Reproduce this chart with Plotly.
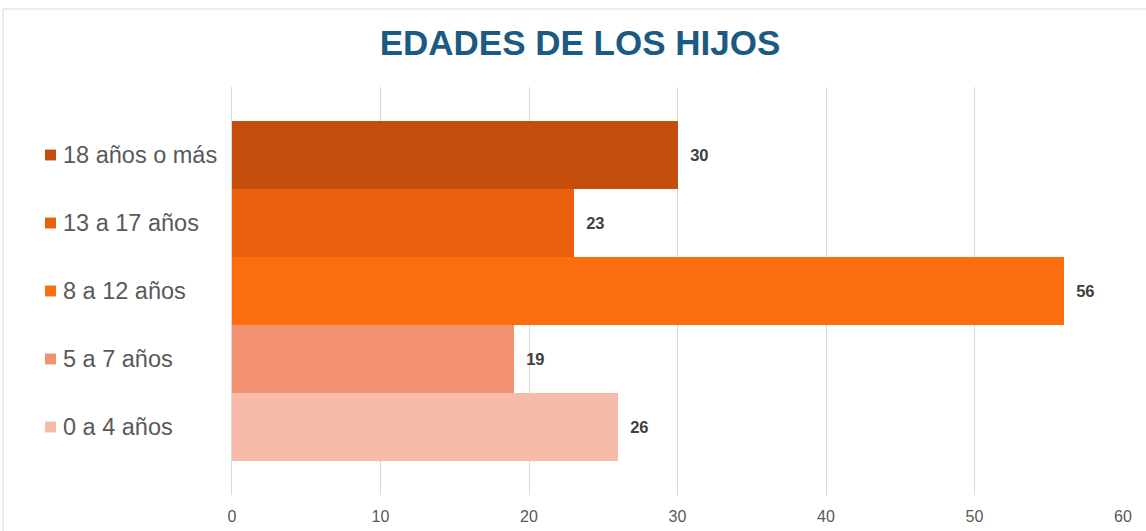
import plotly.graph_objects as go

# Data (bottom to top)
categories = ["0 a 4 años", "5 a 7 años", "8 a 12 años", "13 a 17 años", "18 años o más"]
values = [26, 19, 56, 23, 30]
colors = ["#f7bba9", "#f2916f", "#fb6d0e", "#e95f0b", "#c64e0c"]
x_ticks = [0, 10, 20, 30, 40, 50, 60]

W, H = 1146, 531
ML, MR, MT, MB = 232, 23, 87, 36
PW, PH = W - ML - MR, H - MT - MB

def px_x(p):
    return (p - ML) / PW

def px_y(p):
    return 1 - (p - MT) / PH

fig = go.Figure()
fig.add_trace(go.Bar(
    y=categories,
    x=values,
    orientation="h",
    marker=dict(color=colors, line=dict(width=0)),
    text=[f"  {v}" for v in values],
    textposition="outside",
    constraintext="none",
    textfont=dict(family="Liberation Sans, Arial, sans-serif", size=16.5, color="#404040", weight="bold"),
    cliponaxis=False,
    hoverinfo="skip",
))

shapes = []
annotations = []
for i, (cat, col) in enumerate(zip(categories, colors)):
    shapes.append(dict(type="rect", xref="paper", yref="y",
                       x0=px_x(45), x1=px_x(56), y0=i - 0.08, y1=i + 0.08,
                       fillcolor=col, line=dict(width=0)))
    annotations.append(dict(xref="paper", yref="y", x=px_x(61), y=i,
                            text=cat, showarrow=False, xanchor="left", yanchor="middle",
                            font=dict(family="Liberation Sans, Arial, sans-serif", size=23.5, color="#595959")))

# outer chart border
shapes.append(dict(type="rect", xref="paper", yref="paper",
                   x0=px_x(3), x1=px_x(1160), y0=px_y(560), y1=px_y(9),
                   line=dict(color="#d9d9d9", width=1), fillcolor="rgba(0,0,0,0)", layer="below"))

fig.update_layout(
    width=W, height=H,
    margin=dict(l=ML, r=MR, t=MT, b=MB, autoexpand=False),
    paper_bgcolor="white", plot_bgcolor="white",
    title=dict(text="<b>EDADES DE LOS HIJOS</b>", x=580 / W, xanchor="center",
               y=1 - 43 / H, yanchor="middle", yref="container",
               font=dict(family="Liberation Sans, Arial, sans-serif", size=35, color="#1b5a82")),
    bargap=0,
    showlegend=False,
    shapes=shapes,
    annotations=annotations,
    xaxis=dict(range=[0, 60], tickvals=x_ticks, showgrid=True, gridcolor="#d9d9d9", gridwidth=1,
               zeroline=False, showline=False, ticks="", automargin=False,
               tickfont=dict(family="Liberation Sans Narrow, Arial Narrow, Liberation Sans, sans-serif",
                             size=16, color="#595959"),
               ticklabelstandoff=10),
    yaxis=dict(type="category", categoryorder="array", categoryarray=categories,
               range=[-1, 5], showticklabels=False, showgrid=False, zeroline=False,
               showline=True, linecolor="#d9d9d9", linewidth=1, automargin=False),
)

fig.write_html("out.html", config={"displayModeBar": False},
               post_script="document.body.style.margin='0';document.body.style.padding='0';")
